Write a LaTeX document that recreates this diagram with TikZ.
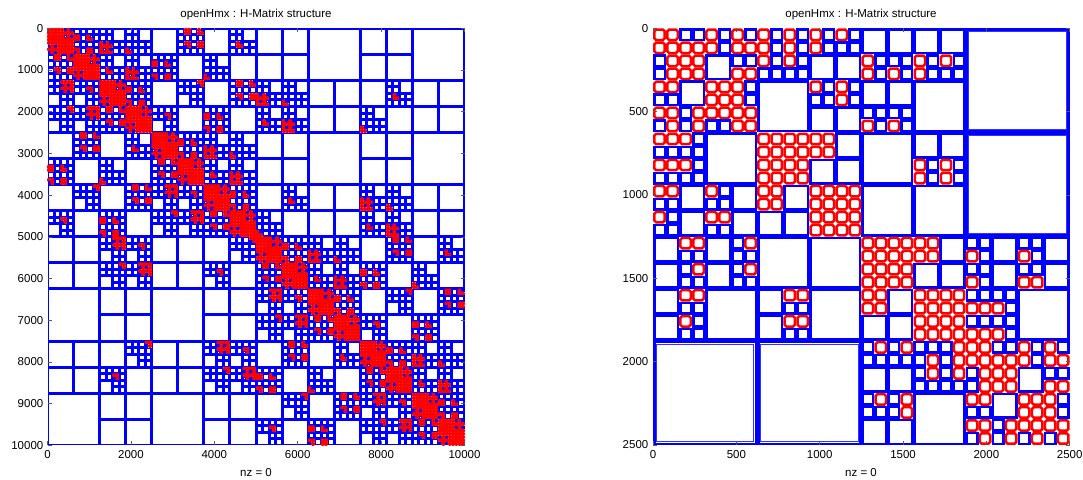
\documentclass[tikz,border=0pt]{standalone}
\usepackage{fontspec}
\setmainfont{Liberation Sans}

\newcount\hmrow
\newcount\hmcol

% left plot: block tree of a strip closed in y, split x / y in turn
\def\qgap#1#2#3#4#5{%
  \ifnum#4>#3\relax \edef#1{\the\numexpr#4-#3\relax}\else
  \ifnum#2>#5\relax \edef#1{\the\numexpr#2-#5\relax}\else \def#1{0}\fi\fi}
\def\qgapp#1#2#3#4#5{\qgap#1#2#3#4#5%
  \ifnum#1>0\relax
    \ifnum#3>#5\relax\let\qhi#3\else\let\qhi#5\fi
    \ifnum#2<#4\relax\let\qlo#2\else\let\qlo#4\fi
    \edef\qw{\the\numexpr256-\qhi+\qlo\relax}%
    \ifnum\qw<#1\relax\let#1\qw\fi
  \fi}
\def\qhalf#1#2#3{\edef\qm{\the\numexpr(#1+#2)/2\relax}%
  \ifnum#3=0 \let#2\qm\else\let#1\qm\fi}
\def\qvisit{%
  \qgap\qgx\qax\qbx\qcx\qdx
  \qgapp\qgy\qay\qby\qcy\qdy
  \edef\qdd{\the\numexpr\qgx*\qgx+\qgy*\qgy\relax}%
  \edef\qdm{\the\numexpr(\qbx-\qax)*(\qbx-\qax)+(\qby-\qay)*(\qby-\qay)\relax}%
  \ifnum\numexpr\qeta*\qdd\relax<\qdm\relax
    \ifnum\qlv=7
      \ifnum\qdd<300 \qnear\else\qfar\fi
    \else\qsplit\fi
  \else
    \qfar
  \fi}
\def\qsplit{\edef\qhh{\the\numexpr\qs/2\relax}\qkid00\qkid01\qkid10\qkid11}
\def\qkid#1#2{%
  \begingroup
  \edef\qr{\the\numexpr\qr+#1*\qhh\relax}%
  \edef\qc{\the\numexpr\qc+#2*\qhh\relax}%
  \let\qs\qhh
  \ifodd\qlv\relax \qhalf\qay\qby#1\qhalf\qcy\qdy#2\else \qhalf\qax\qbx#1\qhalf\qcx\qdx#2\fi
  \edef\qlv{\the\numexpr\qlv+1\relax}%
  \qvisit
  \endgroup}
\def\qfar{\draw[hblue] (\hmX+\qc*\hmU+0.75, \hmY+\qr*\hmU+0.75) rectangle
  (\hmX+\qc*\hmU+\qs*\hmU-0.75, \hmY+\qr*\hmU+\qs*\hmU-0.75);}
\def\qnear{\draw[hred] (\hmX+\qc*\hmU+0.45, \hmY+\qr*\hmU+0.45) rectangle
  (\hmX+\qc*\hmU+\hmU-0.45, \hmY+\qr*\hmU+\hmU-0.45);}

% right plot: one character per leaf cell
\def\rbox#1#2#3{\draw[#1] (\rX+\the\hmcol*\rU+#3, \rY+\the\hmrow*\rU+#3) rectangle
  (\rX+\the\hmcol*\rU+#2*\rU-#3, \rY+\the\hmrow*\rU+#2*\rU-#3);}
\def\rcell#1{%
  \if R#1\rbox{rred}{1}{1.3}\fi
  \if b#1\rbox{rblue}{1}{1.25}\fi
  \if 4#1\ifodd\hmcol\else\ifodd\hmrow\else\rbox{rblue}{2}{1.25}\fi\fi\fi
  \if 3#1\pgfmathparse{int(mod(\the\hmcol,4)+mod(\the\hmrow,4))}%
    \ifnum\pgfmathresult=0 \rbox{rblue}{4}{1.25}\fi\fi
  \if 2#1\pgfmathparse{int(mod(\the\hmcol,8)+mod(\the\hmrow,8))}%
    \ifnum\pgfmathresult=0 \rbox{rblue}{8}{1.25}\rbox{rinner}{8}{3.4}\fi\fi}
\def\rwalk#1{\ifx#1\relax\else\rcell#1\advance\hmcol by 1\relax\expandafter\rwalk\fi}
\def\rrow#1{\hmcol=0 \rwalk#1\relax\advance\hmrow by 1\relax}

\begin{document}
\begin{tikzpicture}[x=1pt, y=-1pt,
  hblue/.style={draw=blue, line width=1.5pt},
  hred/.style={draw=red, line width=1.9pt, rounded corners=0.8pt},
  rblue/.style={draw=blue, line width=2.5pt},
  rred/.style={draw=red, line width=2.5pt, rounded corners=1.8pt},
  rinner/.style={draw=blue!80, line width=0.9pt},
  axtick/.style={draw=black!65, line width=0.5pt},
  lbl/.style={font=\fontsize{11.5}{13}\selectfont, inner sep=0pt}]

\useasboundingbox[fill=white] (0,0) rectangle (1083,479);

% left plot
\def\hmX{47.5}\def\hmY{28.3}\def\hmU{3.2578}
\def\qeta{2}
\begingroup
\def\qr{0}\def\qc{0}\def\qs{128}\def\qlv{0}
\def\qax{0}\def\qbx{256}\def\qay{0}\def\qby{256}
\def\qcx{0}\def\qdx{256}\def\qcy{0}\def\qdy{256}
\qvisit
\endgroup

% right plot
\def\rX{653}\def\rY{28.3}\def\rU{13.022}
\hmrow=0
\rrow{RRbbRbRbRbRbRbRb4444444422222222}
\rrow{RRRRRbRRRbRbRbbb4444444422222222}
\rrow{bRRR44bbRbRb4444RbbbRbRb22222222}
\rrow{bRRR44RRbbbb4444RbRbRbbb22222222}
\rrow{RR44RRRb3333RbRb4444333322222222}
\rrow{bb44RRRb3333bbRb4444333322222222}
\rrow{RRbRRRRR33334444bbbb333322222222}
\rrow{bRbRbbRR33334444RbRb333322222222}
\rrow{RRRb3333RRRRRR443333444422222222}
\rrow{bbbb3333RRRRRR443333444422222222}
\rrow{RRRb3333RRRR44443333RbRb22222222}
\rrow{bbbb3333RRRR44443333RbRb22222222}
\rrow{RR44Rb44RR44RRRR3333333322222222}
\rrow{bb44bb44RR44RRRR3333333322222222}
\rrow{Rb44RR444444RRRR3333333322222222}
\rrow{bb44bb444444RRRR3333333322222222}
\rrow{44RR44bR33333333RRRRRR44bb44bb44}
\rrow{44bb44bb33333333RRRRRR44Rb44Rb44}
\rrow{44bR44bR33333333RRRR4444bb44bb44}
\rrow{44bb44bb33333333RRRR4444Rb44RR44}
\rrow{44RR333344RR3333RR44RRRRbbbb3333}
\rrow{44bb333344bb3333RR44RRRRRRRb3333}
\rrow{44Rb333344RR33334444RRRRbbbb3333}
\rrow{44bb333344bb33334444RRRRRRRb3333}
\rrow{2222222222222222bRbRbbbRRRbbRbRb}
\rrow{2222222222222222bbbbbRbRRRRRRbRR}
\rrow{22222222222222224444bRbRbRRR44bb}
\rrow{22222222222222224444bbbbbRRR44RR}
\rrow{2222222222222222bRbR3333RR44RRRb}
\rrow{2222222222222222bbbR3333bb44RRRb}
\rrow{222222222222222244443333RRbRRRRR}
\rrow{222222222222222244443333bRbRbRbR}

% ticks
\foreach \v in {0,1000,...,10000}
  \draw[axtick] (\hmX, \hmY+\v*0.0417) -- ++(4,0) (\hmX+417, \hmY+\v*0.0417) -- ++(-4,0);
\foreach \v in {0,2000,...,10000}
  \draw[axtick] (\hmX+\v*0.0417, \hmY) -- ++(0,4) (\hmX+\v*0.0417, \hmY+417) -- ++(0,-4);
\foreach \v in {0,500,...,2500}
  \draw[axtick] (\rX, \rY+\v*0.16668) -- ++(4,0) (\rX+416.7, \rY+\v*0.16668) -- ++(-4,0)
    (\rX+\v*0.16668, \rY) -- ++(0,4) (\rX+\v*0.16668, \rY+416.7) -- ++(0,-4);

% labels
\foreach \v [count=\i] in {0,1000,...,10000}
  \node[lbl, anchor=east] (ly\i) at (43.5, \hmY+\v*0.0417) {\v};
\foreach \v [count=\i] in {0,2000,...,10000}
  \node[lbl] (lx\i) at (\hmX+\v*0.0417, 455) {\v};
\foreach \v [count=\i] in {0,500,...,2500} {
  \node[lbl, anchor=east] (ry\i) at (648.5, \rY+\v*0.16668) {\v};
  \node[lbl] (rx\i) at (\rX+\v*0.16668, 455) {\v};
}
\node[lbl] (ltitle) at (256, 15) {openHmx : H-Matrix structure};
\node[lbl] (rtitle) at (861, 15) {openHmx : H-Matrix structure};
\node[lbl] (lnz) at (256, 473) {nz = 0};
\node[lbl] (rnz) at (861, 473) {nz = 0};
\end{tikzpicture}
\end{document}
